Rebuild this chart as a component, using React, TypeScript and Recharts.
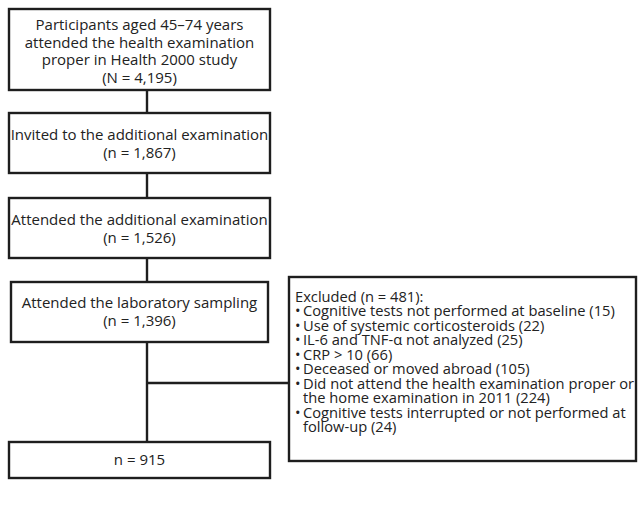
import React from "react";
import { ComposedChart, XAxis, YAxis, ReferenceArea, ReferenceLine } from "recharts";

// ---- content ----
const stageLines: string[][] = [
  ["Participants aged 45–74 years", "attended the health examination", "proper in Health 2000 study"],
  ["Invited to the additional examination"],
  ["Attended the additional examination"],
  ["Attended the laboratory sampling"],
  [],
];
const stageCounts: string[] = ["(N = 4,195)", "(n = 1,867)", "(n = 1,526)", "(n = 1,396)", "n = 915"];

const excludedTitle = "Excluded (n = 481):";
const exclusionReasons: string[][] = [
  ["Cognitive tests not performed at baseline (15)"],
  ["Use of systemic corticosteroids (22)"],
  ["IL-6 and TNF-α not analyzed (25)"],
  ["CRP > 10 (66)"],
  ["Deceased or moved abroad (105)"],
  ["Did not attend the health examination proper or", "the home examination in 2011 (224)"],
  ["Cognitive tests interrupted or not performed at", "follow-up (24)"],
];

// ---- layout (pixel space of the 638x523 canvas) ----
const stageBoxes = [
  { x1: 9, x2: 270, y1: 9, y2: 90, firstBaseline: 30 },
  { x1: 9, x2: 270, y1: 113, y2: 173, firstBaseline: 140 },
  { x1: 9, x2: 270, y1: 198, y2: 258, firstBaseline: 225 },
  { x1: 11, x2: 268, y1: 282, y2: 342, firstBaseline: 308 },
  { x1: 9, x2: 270, y1: 442, y2: 478, firstBaseline: 465 },
];
const stageLineGap = 17.7;
const exclBox = { x1: 289, x2: 636, y1: 277, y2: 461, firstBaseline: 302, textX: 295, indentX: 303 };
const exclLineGap = 14.45;
const connectors = [
  { x: 147, y1: 90, y2: 113 },
  { x: 147, y1: 173, y2: 198 },
  { x: 147, y1: 258, y2: 282 },
  { x: 147, y1: 342, y2: 442 },
];
const branch = { y: 383, x1: 147, x2: 289 };

const INK = "#1e1e1e";
const TEXT = "#222222";
const FONT = "'Open Sans', sans-serif";
const FS = 15;
const FS_EX = 14.7;

const makeStageShape = (idx: number) => (props: any) => {
  const { x, y, width, height } = props;
  const lines = [...stageLines[idx], stageCounts[idx]];
  const cx = x + width / 2;
  const base = stageBoxes[idx].firstBaseline;
  return (
    <g>
      <rect x={x} y={y} width={width} height={height} fill="#fff" stroke={INK} strokeWidth={2.4} />
      {lines.map((l, i) => (
        <text key={i} x={cx} y={base + i * stageLineGap} textAnchor="middle" fontFamily={FONT} fontSize={FS} fill={TEXT}>
          {l}
        </text>
      ))}
    </g>
  );
};

const exclShape = (props: any) => {
  const { x, y, width, height } = props;
  const rows: { text: string; bullet: boolean }[] = [];
  exclusionReasons.forEach((r) => r.forEach((t, j) => rows.push({ text: t, bullet: j === 0 })));
  return (
    <g>
      <rect x={x} y={y} width={width} height={height} fill="#fff" stroke={INK} strokeWidth={2.4} />
      <text x={exclBox.textX} y={exclBox.firstBaseline} fontFamily={FONT} fontSize={FS_EX} fill={TEXT}>
        {excludedTitle}
      </text>
      {rows.map((r, i) => {
        const yy = exclBox.firstBaseline + (i + 1) * exclLineGap;
        return (
          <text key={i} x={r.bullet ? exclBox.textX : exclBox.indentX} y={yy} fontFamily={FONT} fontSize={FS_EX} fill={TEXT}>
            {r.bullet ? "•" : null}
            <tspan x={exclBox.indentX}>{r.text}</tspan>
          </text>
        );
      })}
    </g>
  );
};

const frame = [{ x: 0, y: 0 }, { x: 638, y: 523 }];

export default function App() {
  return (
    <div style={{ position: "absolute", left: 0, top: 0, background: "#fff" }}>
      <ComposedChart width={638} height={523} data={frame} margin={{ top: 0, right: 0, bottom: 0, left: 0 }}>
        <XAxis type="number" dataKey="x" domain={[0, 638]} hide />
        <YAxis type="number" dataKey="y" domain={[0, 523]} reversed hide />
        {connectors.map((c, i) => (
          <ReferenceLine
            key={"c" + i}
            segment={[{ x: c.x, y: c.y1 }, { x: c.x, y: c.y2 }]}
            stroke={INK}
            strokeWidth={2.4}
            ifOverflow="visible"
          />
        ))}
        <ReferenceLine
          segment={[{ x: branch.x1, y: branch.y }, { x: branch.x2, y: branch.y }]}
          stroke={INK}
          strokeWidth={2.4}
          ifOverflow="visible"
        />
        {stageBoxes.map((b, i) => (
          <ReferenceArea
            key={"b" + i}
            x1={b.x1}
            x2={b.x2}
            y1={b.y1}
            y2={b.y2}
            ifOverflow="visible"
            shape={makeStageShape(i)}
          />
        ))}
        <ReferenceArea
          x1={exclBox.x1}
          x2={exclBox.x2}
          y1={exclBox.y1}
          y2={exclBox.y2}
          ifOverflow="visible"
          shape={exclShape}
        />
      </ComposedChart>
    </div>
  );
}
